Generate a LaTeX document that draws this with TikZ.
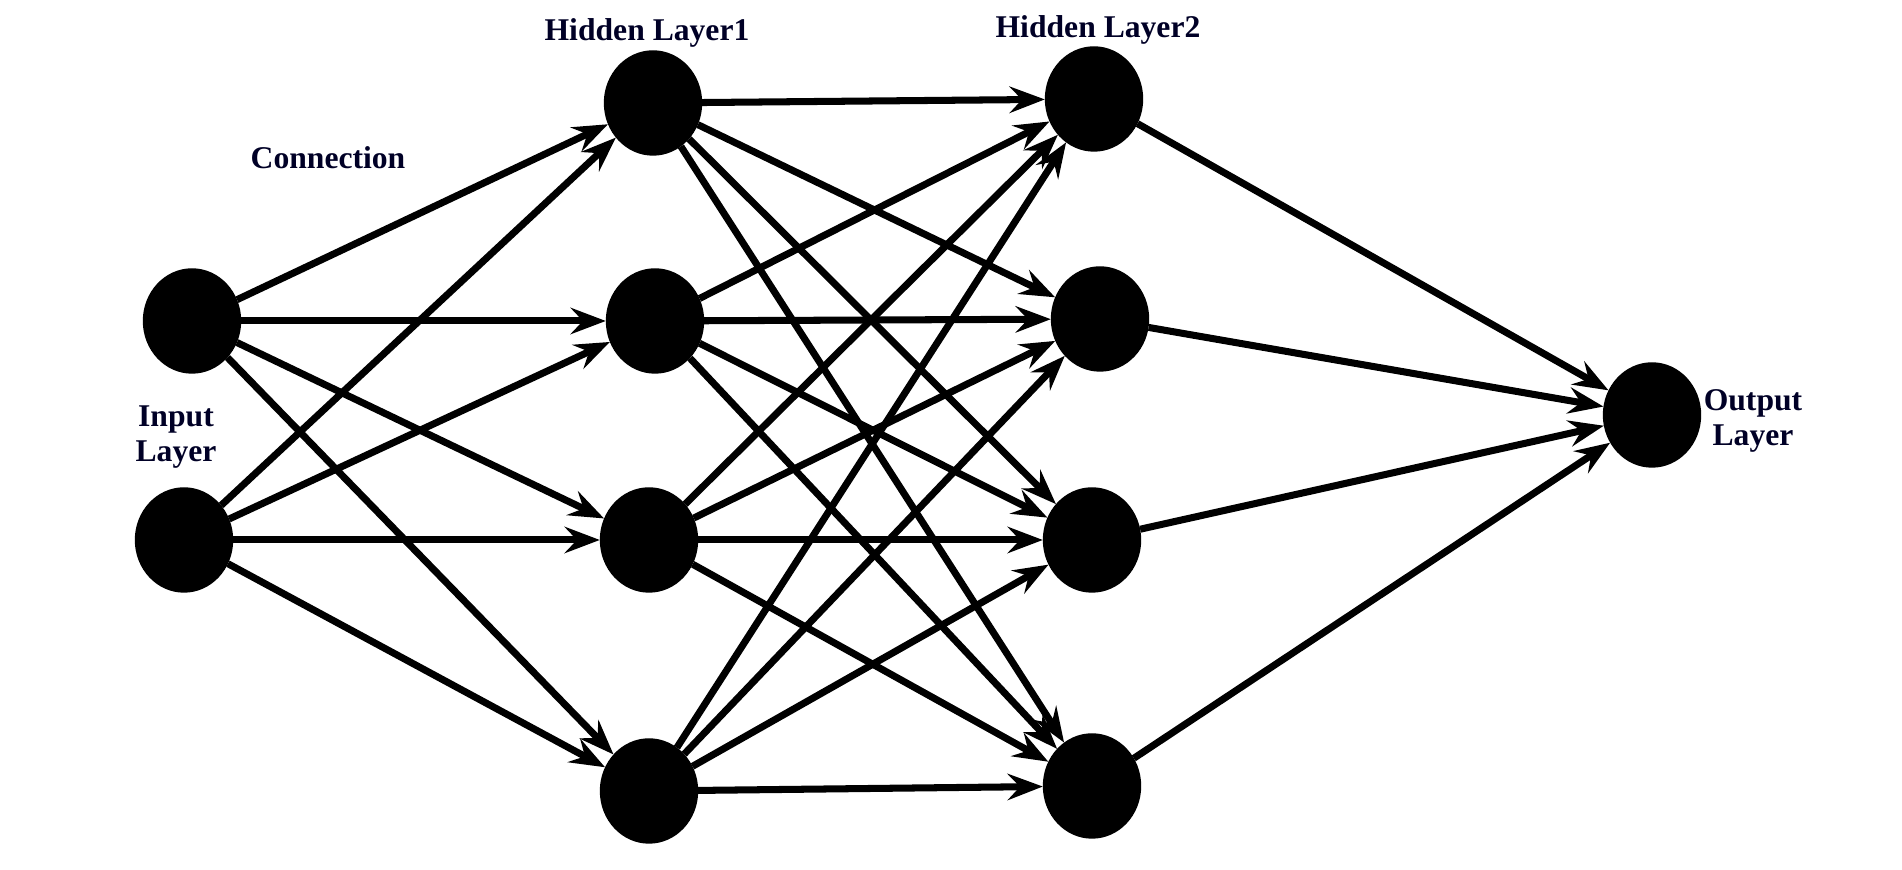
\documentclass[tikz,border=0pt]{standalone}
\usepackage{fontspec}
\setmainfont{Liberation Serif}
\usetikzlibrary{arrows.meta,shapes.geometric}
\tikzset{
  nrn/.style={ellipse,fill=black,draw=black,inner sep=0pt,
              minimum width=0.97cm,minimum height=1.04cm},
  conn/.style={-{Stealth[length=10pt,width=7.5pt,inset=3.5pt]},line width=2pt},
  lbl/.style={font=\fontsize{9}{9.8}\selectfont\bfseries,align=center,
              text=black!85!blue},
}
\begin{document}
\begin{tikzpicture}

  \useasboundingbox (0,0) rectangle (19.02,8.70);

  % input layer
  \node[nrn] (I1) at (1.92,5.49){};
  \node[nrn] (I2) at (1.84,3.30){};

  % hidden layer 1
  \node[nrn] (A1) at (6.53,7.67){};
  \node[nrn] (A2) at (6.55,5.49){};
  \node[nrn] (A3) at (6.49,3.30){};
  \node[nrn] (A4) at (6.49,0.79){};

  % hidden layer 2
  \node[nrn] (B1) at (10.94,7.71){};
  \node[nrn] (B2) at (11.00,5.51){};
  \node[nrn] (B3) at (10.92,3.30){};
  \node[nrn] (B4) at (10.92,0.84){};

  % output layer
  \node[nrn] (O1) at (16.52,4.55){};

  % labels
  \node[lbl] (HL1) at (6.47,8.37){Hidden Layer1};
  \node[lbl] (HL2) at (10.98,8.40){Hidden Layer2};
  \node[lbl] (CON) at (3.28,7.12){Connection};
  \node[lbl] (INL) at (1.76,4.33){Input\\Layer};
  \node[lbl] (OUL) at (17.53,4.49){Output\\Layer};

  % input -> hidden 1
  \draw[conn] (I1) -- (A1);
  \draw[conn] (I1) -- (A2);
  \draw[conn] (I1) -- (A3);
  \draw[conn] (I1) -- (A4);
  \draw[conn] (I2) -- (A1);
  \draw[conn] (I2) -- (A2);
  \draw[conn] (I2) -- (A3);
  \draw[conn] (I2) -- (A4);

  % hidden 1 -> hidden 2
  \draw[conn] (A1) -- (B1);
  \draw[conn] (A1) -- (B2);
  \draw[conn] (A1) -- (B3);
  \draw[conn] (A1) -- (B4);
  \draw[conn] (A2) -- (B1);
  \draw[conn] (A2) -- (B2);
  \draw[conn] (A2) -- (B3);
  \draw[conn] (A2) -- (B4);
  \draw[conn] (A3) -- (B1);
  \draw[conn] (A3) -- (B2);
  \draw[conn] (A3) -- (B3);
  \draw[conn] (A3) -- (B4);
  \draw[conn] (A4) -- (B1);
  \draw[conn] (A4) -- (B2);
  \draw[conn] (A4) -- (B3);
  \draw[conn] (A4) -- (B4);

  % hidden 2 -> output
  \draw[conn] (B1) -- (O1);
  \draw[conn] (B2) -- (O1);
  \draw[conn] (B3) -- (O1);
  \draw[conn] (B4) -- (O1);

\end{tikzpicture}
\end{document}
